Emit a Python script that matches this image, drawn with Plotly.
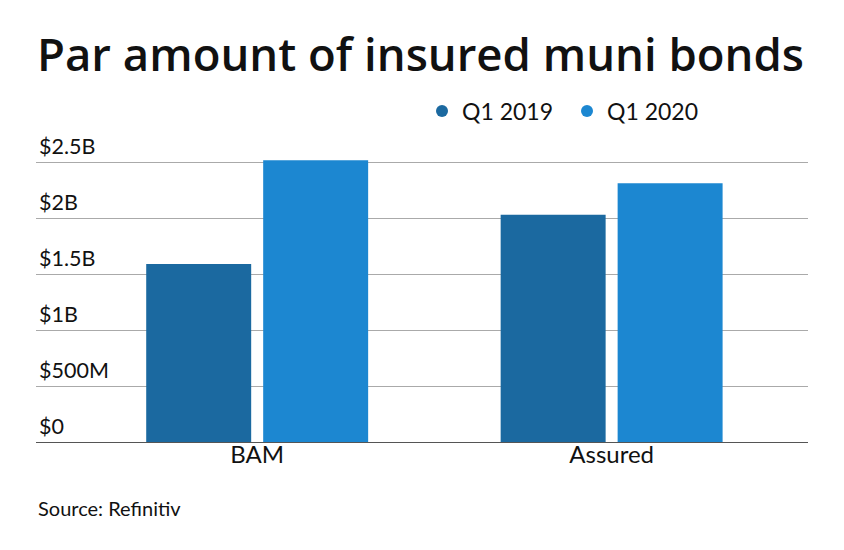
import plotly.graph_objects as go

categories = ["BAM", "Assured"]
series_names = ["Q1 2019", "Q1 2020"]
q1_2019 = [1.59, 2.03]
q1_2020 = [2.515, 2.31]
tick_vals = [0, 0.5, 1, 1.5, 2, 2.5]
tick_text = ["$0", "$500M", "$1B", "$1.5B", "$2B", "$2.5B"]
colors = ["#1b69a0", "#1c87d1"]

FONT = "Lato"
TFONT = "Open Sans"

fig = go.Figure()
for name, vals, col in zip(series_names, [q1_2019, q1_2020], colors):
    fig.add_trace(go.Bar(x=categories, y=vals, name=name, marker_color=col,
                         marker_line_width=0, showlegend=False))
    fig.add_trace(go.Scatter(x=[None], y=[None], mode="markers", name=name,
                             marker=dict(symbol="circle", size=17, color=col)))

fig.update_layout(
    width=844, height=550,
    margin=dict(l=28, r=44, t=126, b=116),
    paper_bgcolor="white", plot_bgcolor="white",
    barmode="group", bargap=0.340, bargroupgap=0.1026,
    font=dict(family=FONT, color="#111111"),
    title=dict(text="Par amount of insured muni bonds", x=29/844, xanchor="left",
               y=1 - 47/550, yanchor="middle",
               font=dict(size=45.5, family=TFONT, weight=600, color="#111111")),
    legend=dict(orientation="h", x=0.5, y=1.0747, xanchor="left", yanchor="middle",
                font=dict(size=23, family=FONT, color="#111111"),
                itemsizing="constant", traceorder="normal",
                entrywidth=100, entrywidthmode="pixels"),
    xaxis=dict(range=[-0.624, 1.554], showgrid=False, showline=True,
               linecolor="#555555", linewidth=1, ticks="", ticklabelstandoff=-9,
               tickfont=dict(size=24, family=FONT, color="#111111"), fixedrange=True),
    yaxis=dict(range=[0, 2.75], tickvals=tick_vals, ticktext=tick_text,
               ticklabelposition="inside top", ticklabeloverflow="allow",
               showgrid=True, gridcolor="#aaaaaa",
               gridwidth=1, zeroline=False, showline=False, ticks="",
               tickfont=dict(size=21.5, family=FONT, color="#111111")),
)
fig.add_annotation(text="Source: Refinitiv", xref="paper", yref="paper",
                   x=0.0, y=-0.214, xanchor="left", yanchor="middle", showarrow=False,
                   font=dict(size=20, family=FONT, color="#111111"))
fig.write_html("out.html")
